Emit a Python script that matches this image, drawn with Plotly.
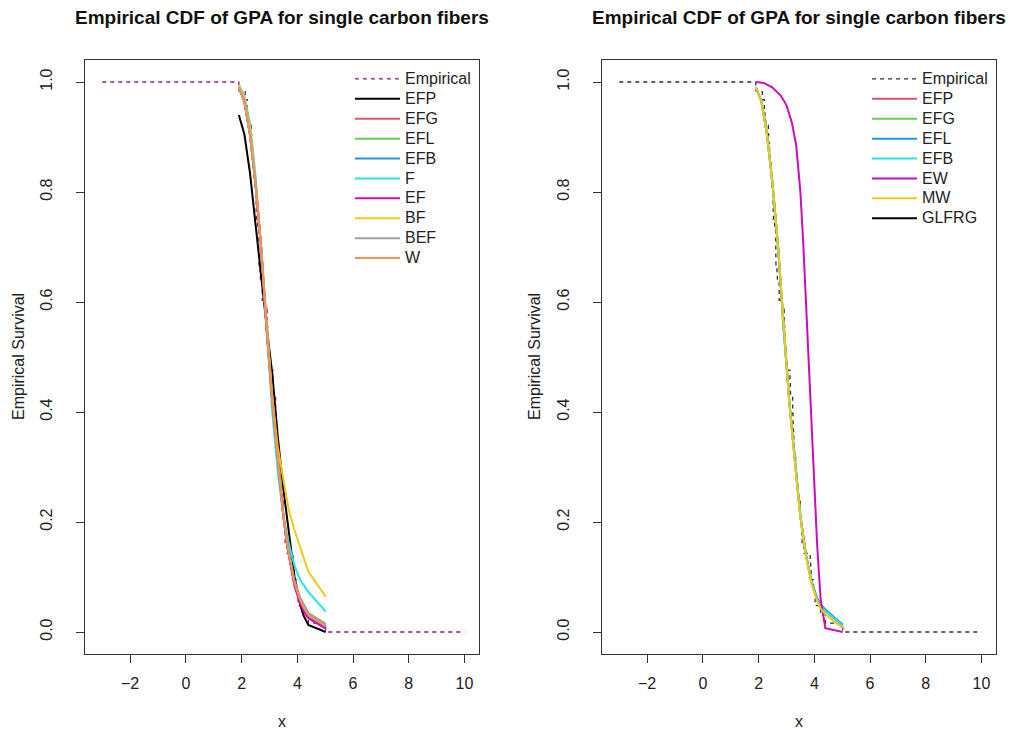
import plotly.graph_objects as go

# ---------------- data ----------------
# sample (single carbon fibres, GPa) and empirical survival
emp_x = [-3, 1.901, 2.132, 2.203, 2.228, 2.257, 2.350, 2.361, 2.396, 2.397, 2.445,
         2.454, 2.474, 2.518, 2.522, 2.525, 2.532, 2.575, 2.614, 2.616, 2.618,
         2.624, 2.659, 2.675, 2.738, 2.740, 2.856, 2.917, 2.928, 2.937, 2.937,
         2.977, 2.996, 3.030, 3.125, 3.139, 3.145, 3.220, 3.223, 3.235, 3.243,
         3.264, 3.272, 3.294, 3.332, 3.346, 3.377, 3.408, 3.435, 3.493, 3.501,
         3.537, 3.554, 3.562, 3.628, 3.852, 3.871, 3.886, 3.971, 4.024, 4.027,
         4.225, 4.395, 5.020, 10]
emp_s = [1.0, 0.984, 0.968, 0.952, 0.937, 0.921, 0.905, 0.889, 0.873, 0.857, 0.841,
         0.825, 0.810, 0.794, 0.778, 0.762, 0.746, 0.730, 0.714, 0.698, 0.683,
         0.667, 0.651, 0.635, 0.619, 0.603, 0.587, 0.571, 0.556, 0.540, 0.524,
         0.508, 0.492, 0.476, 0.460, 0.444, 0.429, 0.413, 0.397, 0.381, 0.365,
         0.349, 0.333, 0.317, 0.302, 0.286, 0.270, 0.254, 0.238, 0.222, 0.206,
         0.190, 0.175, 0.159, 0.143, 0.127, 0.111, 0.095, 0.079, 0.063, 0.048,
         0.032, 0.016, 0.000, 0.0]

# evaluation grid of fitted survival curves
grid_x = [1.901, 2.1, 2.3, 2.5, 2.7, 2.9, 3.1, 3.3, 3.5, 3.7, 3.9, 4.1, 4.225, 4.395, 5.02]

# left panel: fitted survival values
left_names = ["EFP", "EFG", "EFL", "EFB", "F", "EF", "BF", "BEF", "W"]
left_s = {
    "EFP": [0.94, 0.905, 0.835, 0.74, 0.645, 0.555, 0.47, 0.355, 0.26, 0.175, 0.10, 0.05, 0.03, 0.013, 0.0],
    "EFG": [0.99, 0.965, 0.905, 0.815, 0.70, 0.55, 0.42, 0.31, 0.21, 0.14, 0.085, 0.055, 0.042, 0.028, 0.008],
    "EFL": [0.99, 0.966, 0.906, 0.816, 0.70, 0.55, 0.42, 0.31, 0.21, 0.14, 0.087, 0.057, 0.044, 0.030, 0.010],
    "EFB": [0.99, 0.964, 0.904, 0.814, 0.70, 0.55, 0.42, 0.31, 0.212, 0.142, 0.09, 0.06, 0.046, 0.032, 0.012],
    "F":   [0.995, 0.975, 0.925, 0.83, 0.70, 0.55, 0.40, 0.29, 0.21, 0.16, 0.12, 0.095, 0.085, 0.073, 0.037],
    "EF":  [0.99, 0.965, 0.905, 0.815, 0.70, 0.55, 0.42, 0.31, 0.21, 0.138, 0.083, 0.052, 0.038, 0.025, 0.006],
    "BF":  [0.995, 0.97, 0.915, 0.82, 0.70, 0.56, 0.43, 0.335, 0.275, 0.22, 0.185, 0.155, 0.135, 0.11, 0.064],
    "BEF": [0.99, 0.965, 0.905, 0.815, 0.70, 0.552, 0.422, 0.312, 0.214, 0.145, 0.093, 0.063, 0.05, 0.035, 0.015],
    "W":   [0.99, 0.965, 0.905, 0.815, 0.70, 0.55, 0.42, 0.31, 0.21, 0.14, 0.088, 0.058, 0.045, 0.031, 0.011],
}
left_colors = {"EFP": "#000000", "EFG": "#DF536B", "EFL": "#61D04F", "EFB": "#2297E6",
               "F": "#28E2E5", "EF": "#CD0BBC", "BF": "#F5C710", "BEF": "#9E9E9E", "W": "#F7924E"}

# right panel
right_names = ["EFP", "EFG", "EFL", "EFB", "EW", "MW", "GLFRG"]
right_s = {
    "EFP": [0.99, 0.965, 0.905, 0.815, 0.70, 0.55, 0.42, 0.31, 0.21, 0.14, 0.09, 0.06, 0.048, 0.038, 0.012],
    "EFG": [0.99, 0.966, 0.906, 0.816, 0.70, 0.55, 0.42, 0.31, 0.21, 0.14, 0.09, 0.061, 0.049, 0.040, 0.013],
    "EFL": [0.99, 0.965, 0.905, 0.815, 0.70, 0.551, 0.421, 0.311, 0.211, 0.141, 0.091, 0.062, 0.05, 0.041, 0.013],
    "EFB": [0.99, 0.965, 0.905, 0.815, 0.70, 0.55, 0.42, 0.31, 0.21, 0.14, 0.09, 0.06, 0.048, 0.038, 0.012],
    "MW":  [0.99, 0.964, 0.904, 0.814, 0.70, 0.55, 0.418, 0.308, 0.208, 0.138, 0.087, 0.056, 0.043, 0.032, 0.007],
    "GLFRG": [],
}
# EW has its own (denser) evaluation points
ew_x = [1.901, 2.2, 2.5, 2.8, 3.0, 3.2, 3.35, 3.5, 3.6, 3.7, 3.8, 3.9, 4.0, 4.1, 4.225, 4.395, 5.02]
ew_s = [1.0, 0.998, 0.99, 0.975, 0.958, 0.925, 0.885, 0.80, 0.71, 0.60, 0.48, 0.37, 0.26, 0.16, 0.06, 0.007, 0.0]

right_colors = {"EFP": "#DF536B", "EFG": "#61D04F", "EFL": "#2297E6", "EFB": "#28E2E5",
                "EW": "#CD0BBC", "MW": "#F5C710", "GLFRG": "#000000"}

title_text = "Empirical CDF of GPA for single carbon fibers"
x_ticks = [-2, 0, 2, 4, 6, 8, 10]
y_ticks = [0.0, 0.2, 0.4, 0.6, 0.8, 1.0]

# ---------------- figure ----------------
W, H = 1014, 733
FONT = "Liberation Sans, Arial, sans-serif"
fig = go.Figure()


def lg(name):
    # legend label rendered at a larger size than the row spacing font
    return '<span style="font-size:16px">' + name + '</span>'


# left panel
fig.add_trace(go.Scatter(x=emp_x, y=emp_s, mode="lines", name=lg("Empirical"),
                         line=dict(color="#8E1A7E", width=1.3, dash="4px,4px", shape="hv"),
                         xaxis="x", yaxis="y", legend="legend"))
for n in left_names:
    fig.add_trace(go.Scatter(x=grid_x, y=left_s[n], mode="lines", name=lg(n),
                             line=dict(color=left_colors[n], width=2),
                             xaxis="x", yaxis="y", legend="legend"))

# right panel
fig.add_trace(go.Scatter(x=emp_x, y=emp_s, mode="lines", name=lg("Empirical"),
                         line=dict(color="#333333", width=1.3, dash="4px,4px", shape="hv"),
                         xaxis="x2", yaxis="y2", legend="legend2"))
for n in right_names:
    if n == "EW":
        xs, ys = ew_x, ew_s
    elif right_s[n]:
        xs, ys = grid_x, right_s[n]
    else:
        xs, ys = [None], [None]
    fig.add_trace(go.Scatter(x=xs, y=ys, mode="lines", name=lg(n),
                             line=dict(color=right_colors[n], width=2),
                             xaxis="x2", yaxis="y2", legend="legend2"))


def px_x(p):
    return p / W


def px_y(p):
    return 1 - p / H


box_l1, box_r1 = 85, 479
box_l2, box_r2 = 602, 996
box_t, box_b = 60, 654

xa = dict(range=[-3.62, 10.52], tickvals=x_ticks, ticks="outside", ticklen=8, tickwidth=1,
          tickcolor="#333", showline=True, linecolor="#333", linewidth=1, mirror=True,
          showgrid=False, zeroline=False, ticklabelstandoff=7,
          tickfont=dict(family=FONT, size=16, color="#222"))
ya = dict(range=[-0.04, 1.04], tickvals=y_ticks, tickformat=".1f", ticks="outside", ticklen=8,
          tickwidth=1, tickcolor="#333", showline=True, linecolor="#333", linewidth=1,
          mirror=True, showgrid=False, zeroline=False, tickangle=-90, ticklabelstandoff=18,
          tickfont=dict(family=FONT, size=16, color="#222"))

legend_common = dict(bgcolor="rgba(0,0,0,0)", borderwidth=0, font=dict(family=FONT, size=13, color="#222"),
                     xanchor="left", yanchor="top", itemwidth=45, tracegroupgap=0)

fig.update_layout(
    width=W, height=H,
    margin=dict(l=0, r=0, t=0, b=0),
    paper_bgcolor="white", plot_bgcolor="white",
    xaxis=dict(xa, domain=[px_x(box_l1), px_x(box_r1)], anchor="y"),
    yaxis=dict(ya, domain=[px_y(box_b), px_y(box_t)], anchor="x"),
    xaxis2=dict(xa, domain=[px_x(box_l2), px_x(box_r2)], anchor="y2"),
    yaxis2=dict(ya, domain=[px_y(box_b), px_y(box_t)], anchor="x2"),
    legend=dict(legend_common, x=px_x(350), y=px_y(64)),
    legend2=dict(legend_common, x=px_x(867), y=px_y(64)),
    showlegend=True,
)

ann = []
for cx in [(box_l1 + box_r1) / 2, (box_l2 + box_r2) / 2]:
    ann.append(dict(text="<b>" + title_text + "</b>", x=px_x(cx), y=px_y(18), xref="paper", yref="paper",
                    showarrow=False, xanchor="center", yanchor="middle",
                    font=dict(family=FONT, size=19, color="#111")))
    ann.append(dict(text="x", x=px_x(cx), y=px_y(721), xref="paper", yref="paper",
                    showarrow=False, xanchor="center", yanchor="middle",
                    font=dict(family=FONT, size=16, color="#222")))
for lx in [18, 534]:
    ann.append(dict(text="Empirical Survival", x=px_x(lx), y=px_y((box_t + box_b) / 2), xref="paper",
                    yref="paper", showarrow=False, textangle=-90, xanchor="center", yanchor="middle",
                    font=dict(family=FONT, size=16, color="#222")))
fig.update_layout(annotations=ann)

fig.write_html("out.html", config={"displayModeBar": False},
               post_script="document.body.style.margin='0px';")
